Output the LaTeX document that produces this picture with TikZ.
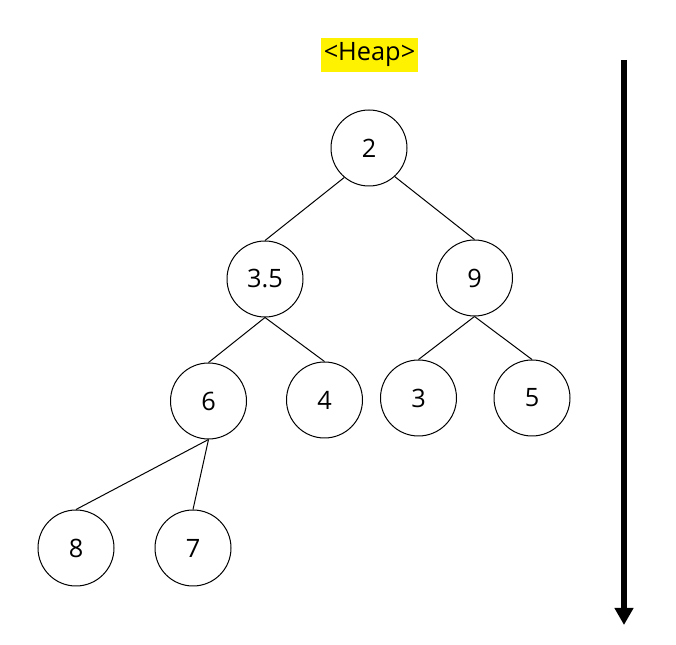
\documentclass[tikz,border=0pt]{standalone}
\usepackage{fontspec}
\setmainfont{Open Sans}
\usetikzlibrary{arrows.meta,positioning}

\tikzset{
  heapnode/.style={draw, circle, minimum size=57pt, inner sep=0pt, line width=0.75pt, font=\fontsize{19}{22}\selectfont},
  link/.style={line width=0.75pt},
  title/.style={fill=yellow, minimum width=72.75pt, minimum height=25.5pt, inner sep=0pt, font=\fontsize{19}{22}\selectfont}
}

\begin{document}
\begin{tikzpicture}[x=0.75pt, y=-0.75pt]

\useasboundingbox (0, 0) rectangle (676, 645);

\node[title] (heap) at (369.5, 55) {<Heap>};

% tree
\node[heapnode] (n2) at (369, 148) {2};
\node[heapnode] (n35) at (265, 279) {3.5};
\node[heapnode] (n9) at (474.5, 278) {9};
\node[heapnode] (n6) at (208.5, 401) {6};
\node[heapnode] (n4) at (324.5, 400) {4};
\node[heapnode] (n3) at (418.5, 398) {3};
\node[heapnode] (n5) at (532, 398) {5};
\node[heapnode] (n8) at (76, 548) {8};
\node[heapnode] (n7) at (193, 548) {7};

\draw[link] (n2.-130) -- (n35.north);
\draw[link] (n2.-48) -- (n9.north);
\foreach \p/\c in {n35/n6, n35/n4, n9/n3, n9/n5, n6/n8, n6/n7}
{
 \draw[link] (\p.south) -- (\c.north);
}

% order arrow
\coordinate (top) at (624, 60);
\coordinate (bottom) at (624, 625);
\draw[line width=4.5pt, -{Triangle[length=12.75pt, width=13.5pt]}] (top) -- (bottom);

\end{tikzpicture}
\end{document}
